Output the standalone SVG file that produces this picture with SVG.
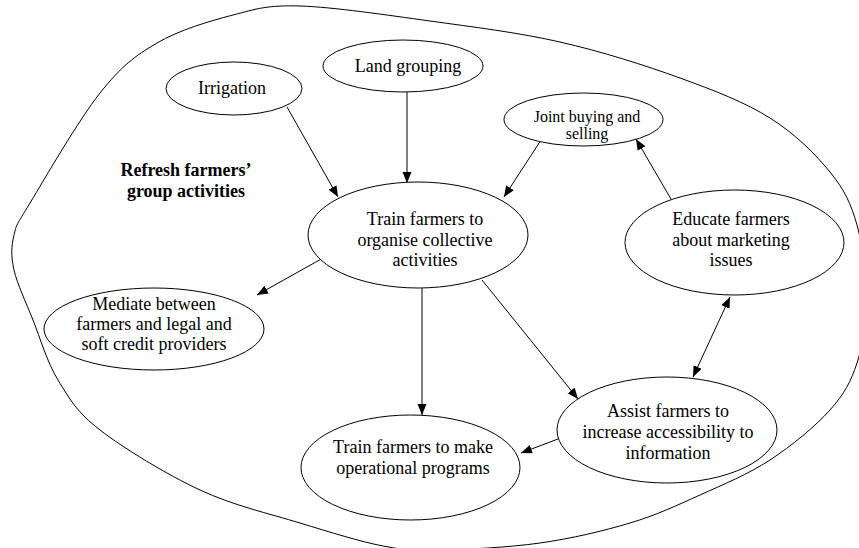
<svg xmlns="http://www.w3.org/2000/svg" width="859" height="548" viewBox="0 0 859 548">
  <style>
    .node ellipse { fill: #ffffff; stroke: #000000; stroke-width: 1; }
    .node text { font-family: "Liberation Serif", "Times New Roman", serif; font-size: 18px; fill: #000000; text-anchor: middle; }
    .node text.small { font-size: 16px; }
    .title { font-family: "Liberation Serif", "Times New Roman", serif; font-size: 18px; font-weight: bold; fill: #000000; text-anchor: middle; }
    .boundary { fill: none; stroke: #000000; stroke-width: 1; }
    .edge { fill: none; stroke: #000000; stroke-width: 1; marker-end: url(#arrow); }
    .edge.both { marker-start: url(#arrow); }
  </style>
  <defs>
    <marker id="arrow" markerUnits="userSpaceOnUse" markerWidth="12" markerHeight="10" refX="11" refY="4.5" orient="auto-start-reverse">
      <path d="M0,0 L11,4.5 L0,9 z" fill="#000000"/>
    </marker>
  </defs>

  <rect width="859" height="548" fill="#ffffff"/>

  <!-- outer boundary enclosing all group activities -->
  <path class="boundary" d="M300,6
    C332.8,7 386.7,15 430,21
    C473.3,27 518.3,32.5 560,42
    C601.7,51.5 645,65.3 680,78
    C715,90.7 745,102.3 770,118
    C795,133.7 815.5,154.2 830,172
    C844.5,189.8 851,203.7 857,225
    C863,246.3 866,277 866,300
    C866,323 863,344.7 857,363
    C851,381.3 844.5,393.8 830,410
    C815.5,426.2 791.7,445.8 770,460
    C748.3,474.2 723.3,484.5 700,495
    C676.7,505.5 656.7,515 630,523
    C603.3,531 571.7,538.5 540,543
    C508.3,547.5 466.2,549.5 440,550
    C413.8,550.5 406.3,550.5 383,546
    C359.7,541.5 330.5,532.3 300,523
    C269.5,513.7 233.3,505.5 200,490
    C166.7,474.5 123.7,448.3 100,430
    C76.3,411.7 69.2,398.3 58,380
    C46.8,361.7 40.3,338.3 33,320
    C25.7,301.7 17.2,284.2 14,270
    C10.8,255.8 11.3,246.2 14,235
    C16.7,223.8 15.7,226.7 30,203
    C44.3,179.3 78.8,119.7 100,93
    C121.2,66.3 134.8,56 157,43
    C179.2,30 209.2,21.2 233,15
    C256.8,8.8 267.2,5 300,6 Z"/>

  <text class="title" x="186" y="176">Refresh farmers’</text>
  <text class="title" x="186" y="197">group activities</text>

  <!-- connectors -->
  <g id="connectors">
    <line class="edge" x1="287" y1="107" x2="338" y2="197"/>
    <line class="edge" x1="407" y1="92" x2="407" y2="183"/>
    <line class="edge" x1="543" y1="137" x2="504" y2="197"/>
    <line class="edge" x1="671" y1="199" x2="636" y2="139"/>
    <line class="edge" x1="323" y1="258" x2="257" y2="295"/>
    <line class="edge" x1="422" y1="288" x2="422" y2="415"/>
    <line class="edge" x1="482" y1="280" x2="578" y2="399"/>
    <line class="edge both" x1="730" y1="297" x2="693" y2="377"/>
    <line class="edge" x1="558" y1="439" x2="521" y2="453"/>
  </g>

  <!-- nodes -->
  <g id="irrigation" class="node">
    <ellipse cx="234" cy="88.5" rx="68" ry="26.5"/>
    <text x="232" y="94">Irrigation</text>
  </g>

  <g id="land-grouping" class="node">
    <ellipse cx="403" cy="66" rx="80" ry="26"/>
    <text x="408" y="72">Land grouping</text>
  </g>

  <g id="joint-buying" class="node">
    <ellipse cx="583.5" cy="119.5" rx="79.5" ry="26.5"/>
    <text class="small" x="587" y="122">Joint buying and</text>
    <text class="small" x="587" y="139">selling</text>
  </g>

  <g id="train-collective" class="node">
    <ellipse cx="418" cy="235" rx="110" ry="53"/>
    <text x="425" y="225">Train farmers to</text>
    <text x="425" y="246">organise collective</text>
    <text x="425" y="266">activities</text>
  </g>

  <g id="educate-marketing" class="node">
    <ellipse cx="734.5" cy="242.5" rx="109.5" ry="52.5"/>
    <text x="731" y="225">Educate farmers</text>
    <text x="731" y="246">about marketing</text>
    <text x="731" y="266">issues</text>
  </g>

  <g id="mediate-credit" class="node">
    <ellipse cx="154" cy="329" rx="110" ry="41"/>
    <text x="154" y="310">Mediate between</text>
    <text x="154" y="330">farmers and legal and</text>
    <text x="154" y="350">soft credit providers</text>
  </g>

  <g id="assist-information" class="node">
    <ellipse cx="667" cy="430" rx="110" ry="53"/>
    <text x="668" y="417">Assist farmers to</text>
    <text x="668" y="438">increase accessibility to</text>
    <text x="668" y="459">information</text>
  </g>

  <g id="train-operational" class="node">
    <ellipse cx="410.5" cy="467.5" rx="109.5" ry="52.5"/>
    <text x="413" y="453">Train farmers to make</text>
    <text x="413" y="474">operational programs</text>
  </g>
</svg>
